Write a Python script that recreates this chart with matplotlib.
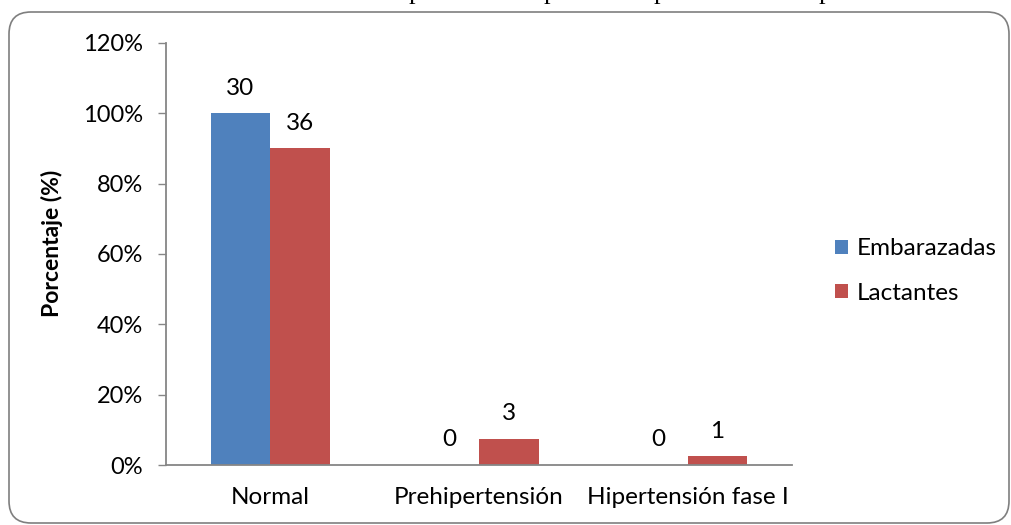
import numpy as np
import matplotlib
matplotlib.use('Agg')
import matplotlib.pyplot as plt
from matplotlib.patches import FancyBboxPatch
from matplotlib.ticker import PercentFormatter

plt.rcParams['font.family'] = ['Lato', 'DejaVu Sans']

categories = ['Normal', 'Prehipertensión', 'Hipertensión fase I']
series = ['Embarazadas', 'Lactantes']
embarazadas = [30, 0, 0]
lactantes = [36, 3, 1]
colors = ['#4F81BD', '#C0504D']
yticks = [0, 20, 40, 60, 80, 100, 120]

counts = [np.array(embarazadas), np.array(lactantes)]
# percent of each group's total
pcts = [c / c.sum() * 100 for c in counts]

fig = plt.figure(figsize=(10.12, 5.25), dpi=100)
ax = fig.add_axes([166/1012, 60/525, 626/1012, 422/525])

x = np.arange(len(categories))
w = 1 / 3.5
for i, (name, p, c) in enumerate(zip(series, pcts, counts)):
    xs = x + (i - 0.5) * w
    ax.bar(xs, p, width=w, color=colors[i], label=name)
    for xi, pi, ci in zip(xs, p, c):
        ax.annotate(str(ci), (xi, pi), xytext=(0, 18), textcoords='offset points',
                    ha='center', va='center', fontsize=17.5)

ax.set_xlim(-0.5, 2.5)
ax.set_ylim(0, 120)
ax.set_yticks(yticks)
ax.yaxis.set_major_formatter(PercentFormatter(decimals=0))
ax.set_xticks(x)
ax.set_xticklabels(categories)
ax.tick_params(axis='x', length=0, pad=16, labelsize=17.5)
ax.tick_params(axis='y', length=5.5, width=1, color='#868686', pad=11, labelsize=17)
for s in ['top', 'right']:
    ax.spines[s].set_visible(False)
for s in ['left', 'bottom']:
    ax.spines[s].set_color('#868686')
    ax.spines[s].set_linewidth(1.3)

fig.text(52/1012, 1 - 243/525, 'Porcentaje (%)', rotation=90, ha='center', va='center',
         fontsize=16.5, fontweight='bold')

ax.legend(loc='center left', bbox_to_anchor=(813/1012, 1 - 271/525),
          bbox_transform=fig.transFigure, frameon=False, fontsize=17.5,
          handlelength=0.55, handleheight=0.55, handletextpad=0.35, labelspacing=0.95)

# rounded chart border
border = FancyBboxPatch((0.09, 0.02), 10.0, 5.11, boxstyle='round,pad=0,rounding_size=0.22',
                        transform=fig.dpi_scale_trans, fill=False, edgecolor='#7f7f7f',
                        linewidth=1.2)
fig.patches.append(border)

# bottom of the caption line above the chart
for px in [415, 550, 660, 825]:
    fig.text(px/1012, 526.5/525, 'p', ha='center', va='baseline',
             fontsize=19, family='Liberation Serif')

fig.savefig('out.png', dpi=100)
